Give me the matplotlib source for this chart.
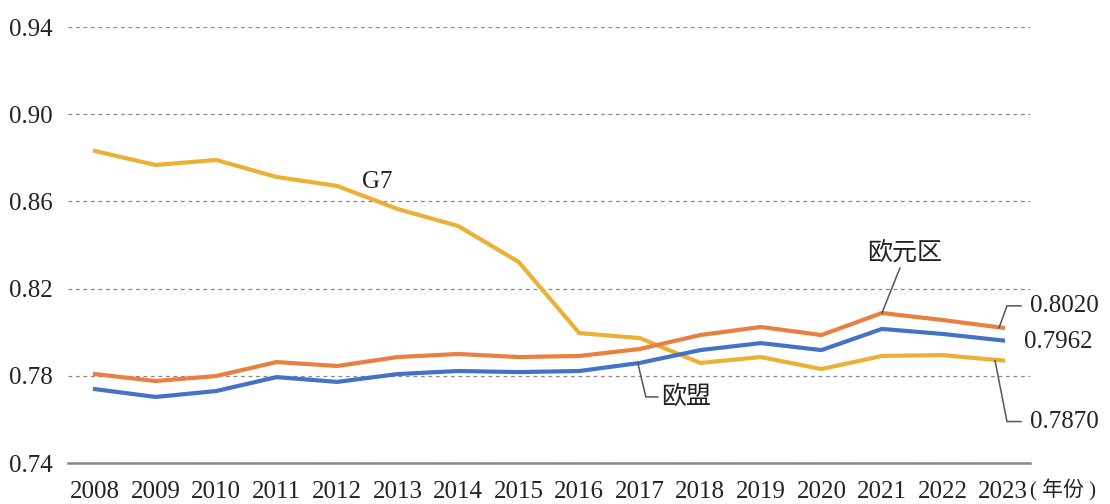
import matplotlib
matplotlib.use("Agg")
import matplotlib.pyplot as plt
from matplotlib.transforms import IdentityTransform

plt.rcParams['font.family'] = ['Liberation Serif', 'Noto Sans CJK SC']

years = list(range(2008, 2024))
g7 = [0.8831, 0.8767, 0.8790, 0.8712, 0.8671, 0.8565, 0.8487, 0.8322,
      0.7996, 0.7973, 0.7859, 0.7886, 0.7831, 0.7891, 0.7895, 0.7870]
eurozone = [0.7808, 0.7776, 0.7799, 0.7863, 0.7845, 0.7886, 0.7900, 0.7886,
            0.7891, 0.7923, 0.7987, 0.8024, 0.7987, 0.8088, 0.8056, 0.8020]
eu = [0.7739, 0.7703, 0.7730, 0.7794, 0.7772, 0.7808, 0.7822, 0.7817,
      0.7822, 0.7859, 0.7918, 0.7950, 0.7918, 0.8015, 0.7992, 0.7962]
yticks = [0.74, 0.78, 0.82, 0.86, 0.90, 0.94]
ytick_labels = ["0.74", "0.78", "0.82", "0.86", "0.90", "0.94"]

c_g7 = "#EBB035"
c_ez = "#E8803F"
c_eu = "#4472C4"
grey = "#555555"
tc = "#222222"
FS = 18

W, H = 1110, 504
fig = plt.figure(figsize=(W / 100, H / 100), dpi=100)
ax = fig.add_axes([68 / W, (H - 463) / H, (1030 - 68) / W, (463 - 27) / H])

ax.plot(years, g7, color=c_g7, lw=3.0, zorder=3)
ax.plot(years, eurozone, color=c_ez, lw=3.0, zorder=4)
ax.plot(years, eu, color=c_eu, lw=3.0, zorder=3)

ax.set_xlim(2008 - 27 / 60.53, 2023 + 27 / 60.53)
ax.set_ylim(0.74, 0.94)
ax.set_yticks(yticks)
ax.set_yticklabels(ytick_labels)
ax.set_xticks(years)
ax.set_xticklabels([str(y) for y in years])
ax.tick_params(axis='both', length=0, labelsize=FS, colors=tc)
ax.tick_params(axis='y', pad=11)
ax.tick_params(axis='x', pad=13)

for s in ['left', 'right', 'top']:
    ax.spines[s].set_visible(False)
ax.spines['bottom'].set_color("#888888")
ax.spines['bottom'].set_linewidth(1.8)
ax.yaxis.grid(True, linestyle=(0, (3, 3)), color="#888888", lw=0.9)
ax.set_axisbelow(True)

fig.canvas.draw()
T = ax.transData


def disp(x, y):
    px, py = T.transform((x, y))
    return px, py


def leader(x, y, offsets):
    px, py = disp(x, y)
    xs = [px + dx for dx, dy in offsets]
    ys = [py + dy for dx, dy in offsets]
    ax.add_line(plt.Line2D(xs, ys, transform=IdentityTransform(), color=grey, lw=1.1, zorder=5))
    return xs[-1], ys[-1]


# (年份) after last x tick label
px, py = disp(2023, 0.74)
fig.text((px + 27) / W, 14 / H, "( 年份 )", fontsize=15, ha='left', va='center', color=tc)

# G7 label
px, py = disp(2012, g7[4])
fig.text((px + 40) / W, (py - 2) / H, "G7", fontsize=FS, ha='center', va='baseline', color=tc)

# 欧元区
ex, ey = leader(2021, eurozone[13], [(0, 0), (18, 45)])
fig.text((ex + 5) / W, (ey + 3) / H, "欧元区", fontsize=FS, ha='center', va='bottom', color=tc)

# 0.8020
ex, ey = leader(2023, eurozone[15], [(-4, 0), (4, 22), (18, 22)])
fig.text((ex + 9) / W, ey / H, "0.8020", fontsize=FS, ha='left', va='center', color=tc)

# 0.7962
px, py = disp(2023, eu[15])
fig.text((px + 21) / W, (py - 2) / H, "0.7962", fontsize=FS, ha='left', va='center', color=tc)

# 0.7870
ex, ey = leader(2023, g7[15], [(-8, 0), (4, -61), (18, -61)])
fig.text((ex + 9) / W, ey / H, "0.7870", fontsize=FS, ha='left', va='center', color=tc)

# 欧盟
ex, ey = leader(2017, eu[9], [(-2, 0), (6, -34), (18, -34)])
fig.text((ex + 3) / W, ey / H, "欧盟", fontsize=FS, ha='left', va='center', color=tc)

fig.savefig("out.png", dpi=100)
